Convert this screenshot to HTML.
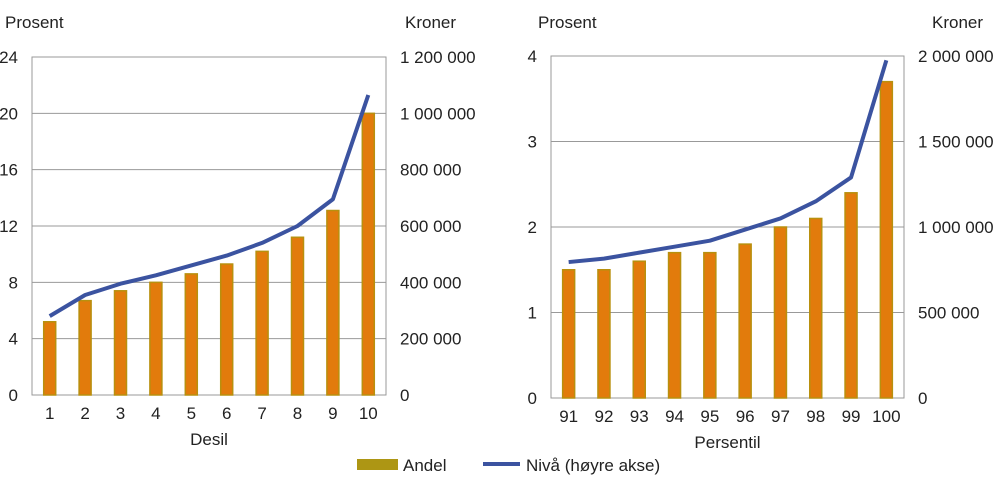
<!DOCTYPE html>
<html><head><meta charset="utf-8"><style>
body{margin:0;background:#fff;font-family:"Liberation Sans",Arial,sans-serif}
svg text{font-family:"Liberation Sans",Arial,sans-serif;font-size:17px;fill:#222}
</style></head><body>
<svg id="c" width="1000" height="489" xmlns="http://www.w3.org/2000/svg"></svg>
<script>
const desilCats=["1","2","3","4","5","6","7","8","9","10"];
const desilAndel=[5.2,6.7,7.4,8.0,8.6,9.3,10.2,11.2,13.1,20.0];
const desilNivaa=[280000,355000,395000,425000,460000,495000,540000,600000,695000,1065000];
const desilLeftTicks=[0,4,8,12,16,20,24];
const desilRightTicks=["0","200 000","400 000","600 000","800 000","1 000 000","1 200 000"];
const persCats=["91","92","93","94","95","96","97","98","99","100"];
const persAndel=[1.5,1.5,1.6,1.7,1.7,1.8,2.0,2.1,2.4,3.7];
const persNivaa=[795000,815000,850000,885000,920000,985000,1050000,1150000,1290000,1975000];
const persLeftTicks=[0,1,2,3,4];
const persRightTicks=["0","500 000","1 000 000","1 500 000","2 000 000"];
const NS="http://www.w3.org/2000/svg";
const svg=document.getElementById('c');
function mk(tag,attrs,parent){const e=document.createElementNS(NS,tag);for(const k in attrs)e.setAttribute(k,attrs[k]);(parent||svg).appendChild(e);return e;}
function panel(p){
  const g=mk('g',{});
  
  
  const lMax=p.lt[p.lt.length-1], rMax=p.rMax;
  const y=v=>p.y1-(v/lMax)*(p.y1-p.y0);
  const yr=v=>p.y1-(v/rMax)*(p.y1-p.y0);
  const step=(p.x1-p.x0)/p.cats.length;
  const x=i=>p.x0+step*(i+0.5);
  p.lt.forEach((t,i)=>{
    const yy=y(t);
    const ln=mk('line',{x1:p.x0,x2:p.x1,y1:yy,y2:yy,stroke:'#999','stroke-width':1},g);
    
    
    const tl=mk('text',{x:p.x0-14,y:yy+6,'text-anchor':'end'},g);tl.textContent=t;
    
    
    const tr=mk('text',{x:p.x1+14,y:yy+6},g);tr.textContent=p.rt[i];
    
    
  });
  const fr=mk('rect',{x:p.x0,y:p.y0,width:p.x1-p.x0,height:p.y1-p.y0,fill:'none',stroke:'#999'},g);
  
  
  p.bars.forEach((v,i)=>{
    const b=mk('rect',{x:x(i)-6,y:y(v),width:12,height:p.y1-y(v),fill:'#e27b0c',stroke:'#b8900e','stroke-width':1.5},g);
    
    
    const c=mk('text',{x:x(i),y:p.y1+24,'text-anchor':'middle'},g);c.textContent=p.cats[i];
    
    
  });
  const pts=p.line.map((v,i)=>x(i)+','+yr(v)).join(' ');
  const pl=mk('polyline',{points:pts,fill:'none',stroke:'#3b53a0','stroke-width':4,'stroke-linejoin':'round'},g);
  
  
  const xt=mk('text',{x:(p.x0+p.x1)/2,y:p.y1+50,'text-anchor':'middle'},g);xt.textContent=p.xTitle;
  
  
  const lt=mk('text',{x:p.lTitleX,y:28},g);lt.textContent='Prosent';
  
  
  const rtt=mk('text',{x:p.rTitleX,y:28},g);rtt.textContent='Kroner';
  
  
}
panel({name:'desil-panel',x0:32,x1:386,y0:57,y1:395,cats:desilCats,bars:desilAndel,line:desilNivaa,lt:desilLeftTicks,rt:desilRightTicks,rMax:1200000,xTitle:'Desil',lTitleX:5,rTitleX:405});
panel({name:'persentil-panel',x0:551,x1:904,y0:56,y1:398,cats:persCats,bars:persAndel,line:persNivaa,lt:persLeftTicks,rt:persRightTicks,rMax:2000000,xTitle:'Persentil',lTitleX:538,rTitleX:932});
const lg=mk('g',{});


const s1=mk('rect',{x:357,y:459,width:41,height:11,fill:'#ad9614'},lg);


const t1=mk('text',{x:403,y:471,'font-size':18},lg);t1.textContent='Andel';


const s2=mk('line',{x1:483,x2:520,y1:464,y2:464,stroke:'#3b53a0','stroke-width':4},lg);


const t2=mk('text',{x:526,y:471,'font-size':18},lg);t2.textContent='Nivå (høyre akse)';


</script>
</body></html>
